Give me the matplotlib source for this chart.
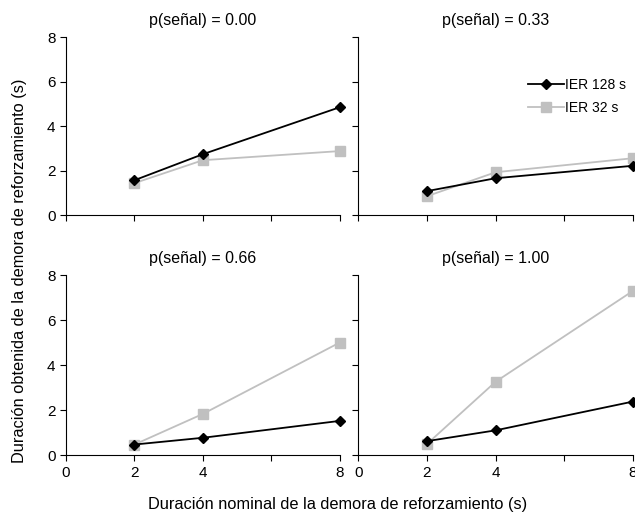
import matplotlib.pyplot as plt

plt.rcParams['font.family'] = ['Liberation Sans', 'DejaVu Sans']

# nominal delays (s), drawn at equally spaced category positions
delays = [2, 4, 8]
delay_pos = [1, 2, 4]
tick_pos = [0, 1, 2, 3, 4]
tick_labels = ['0', '2', '4', '', '8']

titles = ['p(señal) = 0.00', 'p(señal) = 0.33', 'p(señal) = 0.66', 'p(señal) = 1.00']
ier128 = [[1.57, 2.74, 4.85],
          [1.08, 1.66, 2.22],
          [0.47, 0.77, 1.52],
          [0.62, 1.10, 2.38]]
ier32 = [[1.44, 2.47, 2.88],
         [0.85, 1.93, 2.56],
         [0.47, 1.83, 5.00],
         [0.49, 3.26, 7.30]]

fig = plt.figure(figsize=(6.35, 5.16), dpi=100)
boxes = [[0.104, 0.583, 0.431, 0.345],
         [0.564, 0.583, 0.433, 0.345],
         [0.104, 0.118, 0.431, 0.349],
         [0.564, 0.118, 0.433, 0.349]]

gray = '#c0c0c0'
for i, box in enumerate(boxes):
    ax = fig.add_axes(box)
    ax.plot(delay_pos, ier128[i], color='black', lw=1.3, marker='D', ms=5.5,
            label='IER 128 s', zorder=3)
    ax.plot(delay_pos, ier32[i], color=gray, lw=1.3, marker='s', ms=7.5,
            label='IER 32 s', zorder=2)
    ax.set_xlim(0, 4)
    ax.set_ylim(0, 8)
    ax.set_xticks(tick_pos)
    ax.set_yticks([0, 2, 4, 6, 8])
    ax.spines['top'].set_visible(False)
    ax.spines['right'].set_visible(False)
    ax.tick_params(direction='out', length=4, width=0.8, labelsize=11)
    if i >= 2:
        ax.set_xticklabels(tick_labels)
    else:
        ax.set_xticklabels([])
    if i % 2 == 1:
        ax.set_yticklabels([])
    ax.set_title(titles[i], fontsize=11.5, pad=9)
    for c in ax.get_children():
        if hasattr(c, 'set_clip_on'):
            c.set_clip_on(False)
    if i == 1:
        ax.legend(loc='upper right', bbox_to_anchor=(1.02, 0.84), frameon=False,
                  fontsize=10, handlelength=2.6, handletextpad=0.1,
                  labelspacing=0.65)

fig.text(0.03, 0.475, 'Duración obtenida de la demora de reforzamiento (s)',
         rotation=90, ha='center', va='center', fontsize=11.8)
fig.text(0.532, 0.022, 'Duración nominal de la demora de reforzamiento (s)',
         ha='center', va='center', fontsize=11.8)

fig.savefig('out.png', dpi=100)
